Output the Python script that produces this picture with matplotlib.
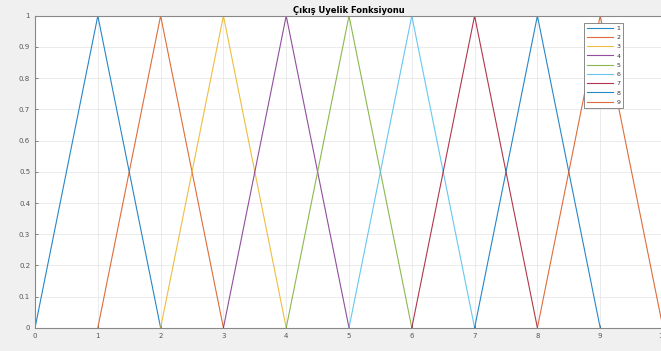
import matplotlib
matplotlib.use('Agg')
import matplotlib.pyplot as plt

# ── Data: triangular membership functions [a, b, c] ───────────
labels = ["1", "2", "3", "4", "5", "6", "7", "8", "9"]
mf_a = [0, 1, 2, 3, 4, 5, 6, 7, 8]
mf_b = [1, 2, 3, 4, 5, 6, 7, 8, 9]
mf_c = [2, 3, 4, 5, 6, 7, 8, 9, 10]
x_ticks = [0, 1, 2, 3, 4, 5, 6, 7, 8, 9, 10]
y_ticks = [0, 0.1, 0.2, 0.3, 0.4, 0.5, 0.6, 0.7, 0.8, 0.9, 1]

# MATLAB default line order
COLORS = ["#0072BD", "#D95319", "#EDB120", "#7E2F8E", "#77AC30",
          "#4DBEEE", "#A2142F", "#0072BD", "#D95319"]
BG = "#f0f0f0"
TICK = "#555555"

fig = plt.figure(figsize=(6.61, 3.51), dpi=100, facecolor=BG)
ax = fig.add_axes([0.053, 0.066, 0.95, 0.889])
ax.set_facecolor("white")

for a, b, c, lab, col in zip(mf_a, mf_b, mf_c, labels, COLORS):
    ax.plot([a, b, c], [0, 1, 0], color=col, lw=0.8, alpha=0.85, label=lab)

ax.set_xlim(0, 10)
ax.set_ylim(0, 1)
ax.set_xticks(x_ticks)
ax.set_yticks(y_ticks)
ax.set_yticklabels([f"{v:g}" for v in y_ticks])
ax.tick_params(labelsize=5, colors=TICK, length=2.5, width=0.5, direction="in")
ax.grid(True, color="#e3e3e3", linewidth=0.5)
for s in ax.spines.values():
    s.set_color("#888888")
    s.set_linewidth(0.8)

ax.set_title("Çıkış Uyelik Fonksiyonu", fontsize=6, fontweight="bold", pad=2)

leg = ax.legend(loc="upper right", bbox_to_anchor=(0.942, 0.988), fontsize=4.5,
                handlelength=4.2, labelspacing=0.62, borderpad=0.45,
                handletextpad=0.5, fancybox=False, framealpha=1,
                edgecolor="#777777")
leg.get_frame().set_linewidth(0.6)
for t in leg.get_texts():
    t.set_color("#333333")

plt.savefig("out.png", dpi=100, facecolor=BG)
